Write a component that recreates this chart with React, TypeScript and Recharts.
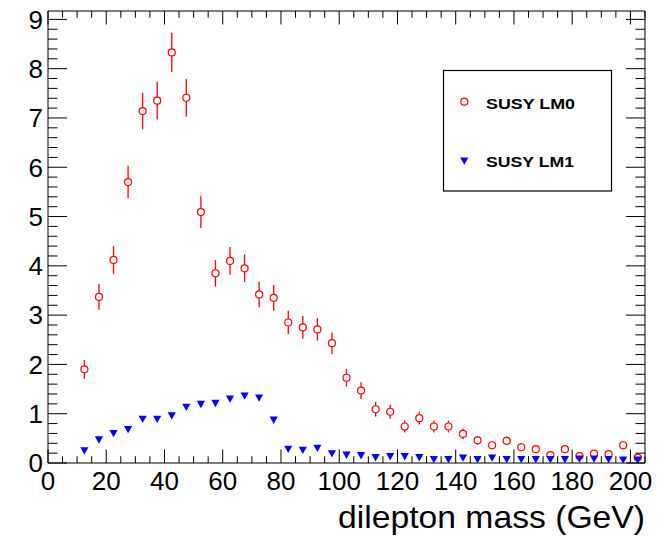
import React from "react"
import { ScatterChart, Scatter, XAxis, YAxis, ErrorBar } from "recharts"

// bin centres (GeV), 5 GeV wide bins
const massBins = [
  12.5, 17.5, 22.5, 27.5, 32.5, 37.5, 42.5, 47.5, 52.5, 57.5, 62.5, 67.5, 72.5,
  77.5, 82.5, 87.5, 92.5, 97.5, 102.5, 107.5, 112.5, 117.5, 122.5, 127.5, 132.5,
  137.5, 142.5, 147.5, 152.5, 157.5, 162.5, 167.5, 172.5, 177.5, 182.5, 187.5,
  192.5, 197.5, 202.5,
]

const lm0Values = [
  1.9, 3.37, 4.12, 5.7, 7.14, 7.35, 8.33, 7.41, 5.09, 3.85, 4.1, 3.95, 3.42,
  3.35, 2.85, 2.75, 2.71, 2.43, 1.73, 1.47, 1.09, 1.04, 0.74, 0.91, 0.74,
  0.74, 0.59, 0.46, 0.36, 0.45, 0.32, 0.28, 0.16, 0.28, 0.14, 0.19,
  0.18, 0.36, 0.11,
]

const lm0Errors = [
  0.19, 0.26, 0.28, 0.33, 0.37, 0.38, 0.4, 0.38, 0.32, 0.27, 0.28, 0.28, 0.26,
  0.26, 0.24, 0.23, 0.23, 0.22, 0.18, 0.17, 0.15, 0.14, 0.12, 0.13, 0.12,
  0.12, 0.11, 0.09, 0.08, 0.09, 0.08, 0.07, 0.06, 0.07, 0.05, 0.06,
  0.06, 0.08, 0.05,
]

const lm1Values = [
  0.25, 0.47, 0.6, 0.68, 0.89, 0.89, 0.96, 1.13, 1.19, 1.21, 1.3, 1.36, 1.32,
  0.87, 0.28, 0.26, 0.3, 0.19, 0.16, 0.15, 0.11, 0.13, 0.13, 0.11, 0.07,
  0.07, 0.1, 0.07, 0.1, 0.07, 0.07, 0.07, 0.07, 0.07, 0.08, 0.08,
  0.07, 0.06, 0.06,
]

const xTickLabels = [0, 20, 40, 60, 80, 100, 120, 140, 160, 180, 200]
const yTickLabels = [0, 1, 2, 3, 4, 5, 6, 7, 8, 9]

const FONT = "'Liberation Sans', Arial, Helvetica, sans-serif"
const RED = "#ff0000"
const BLUE = "#0000ff"

// minor ticks every 5 GeV on x, every 0.2 on y
const xTicks: number[] = []
for (let i = 0; i <= 41; i++) xTicks.push(i * 5)
const yTicks: number[] = []
for (let i = 0; i <= 45; i++) yTicks.push(Math.round(i * 2) / 10)

const lm0Data = massBins.map((x, i) => ({ x, y: lm0Values[i], err: lm0Errors[i] }))
const lm1Data = massBins.map((x, i) => ({ x, y: lm1Values[i] }))

const isMajorX = (v: number) => xTickLabels.includes(v)
const isMajorY = (v: number) => yTickLabels.some((t) => Math.abs(t - v) < 1e-6)

const BottomTick = (props: any) => {
  const { x, y, payload } = props
  const major = isMajorX(payload.value)
  return (
    <g>
      <line x1={x} x2={x} y1={y} y2={y - (major ? 13.5 : 6.8)} stroke="#000" strokeWidth={1} />
      {major && (
        <text x={x} y={y + 27} textAnchor="middle" fontSize={26} fontFamily={FONT} fill="#000">
          {payload.value}
        </text>
      )}
    </g>
  )
}

const TopTick = (props: any) => {
  const { x, y, payload } = props
  const major = isMajorX(payload.value)
  return <line x1={x} x2={x} y1={y} y2={y + (major ? 13.5 : 6.8)} stroke="#000" strokeWidth={1} />
}

const LeftTick = (props: any) => {
  const { x, y, payload } = props
  const major = isMajorY(payload.value)
  return (
    <g>
      <line x1={x} x2={x + (major ? 19 : 9.5)} y1={y} y2={y} stroke="#000" strokeWidth={1} />
      {major && (
        <text x={x - 5} y={y + 9.3} textAnchor="end" fontSize={26} fontFamily={FONT} fill="#000">
          {Math.round(payload.value)}
        </text>
      )}
    </g>
  )
}

const RightTick = (props: any) => {
  const { x, y, payload } = props
  const major = isMajorY(payload.value)
  return <line x1={x} x2={x - (major ? 19 : 9.5)} y1={y} y2={y} stroke="#000" strokeWidth={1} />
}

const OpenCircle = (props: any) => {
  const { cx, cy } = props
  return <circle cx={cx} cy={cy} r={3.5} fill="#fff" stroke={RED} strokeWidth={1.2} />
}

const DownTriangle = (props: any) => {
  const { cx, cy } = props
  return (
    <polygon
      points={`${cx - 4.1},${cy - 3.5} ${cx + 4.1},${cy - 3.5} ${cx},${cy + 3.8}`}
      fill={BLUE}
    />
  )
}

export default function App() {
  return (
    <div
      style={{
        position: "absolute",
        left: 0,
        top: 0,
        width: 667,
        height: 537,
        background: "#fff",
        fontFamily: FONT,
      }}
    >
      <ScatterChart width={667} height={537} margin={{ top: 10, right: 21, bottom: 73, left: 47 }}>
        <XAxis
          xAxisId="b"
          type="number"
          dataKey="x"
          domain={[0, 205]}
          allowDataOverflow
          ticks={xTicks}
          interval={0}
          height={1}
          tickSize={0}
          tickMargin={0}
          tickLine={false}
          axisLine={{ stroke: "#000" }}
          tick={<BottomTick />}
        />
        <XAxis
          xAxisId="t"
          orientation="top"
          type="number"
          dataKey="x"
          domain={[0, 205]}
          allowDataOverflow
          ticks={xTicks}
          interval={0}
          height={1}
          tickSize={0}
          tickMargin={0}
          tickLine={false}
          axisLine={{ stroke: "#000" }}
          tick={<TopTick />}
        />
        <YAxis
          yAxisId="l"
          type="number"
          dataKey="y"
          domain={[0, 9.17]}
          allowDataOverflow
          ticks={yTicks}
          interval={0}
          width={1}
          tickSize={0}
          tickMargin={0}
          tickLine={false}
          axisLine={{ stroke: "#000" }}
          tick={<LeftTick />}
        />
        <YAxis
          yAxisId="r"
          orientation="right"
          type="number"
          dataKey="y"
          domain={[0, 9.17]}
          allowDataOverflow
          ticks={yTicks}
          interval={0}
          width={1}
          tickSize={0}
          tickMargin={0}
          tickLine={false}
          axisLine={{ stroke: "#000" }}
          tick={<RightTick />}
        />
        <Scatter
          name="SUSY LM0"
          data={lm0Data}
          xAxisId="b"
          yAxisId="l"
          shape={<OpenCircle />}
          isAnimationActive={false}
        >
          <ErrorBar dataKey="err" direction="y" width={0} stroke={RED} strokeWidth={1.3} isAnimationActive={false} />
        </Scatter>
        <Scatter
          name="SUSY LM1"
          data={lm1Data}
          xAxisId="b"
          yAxisId="l"
          shape={<DownTriangle />}
          isAnimationActive={false}
        />
      </ScatterChart>

      {/* axis title, right aligned with the frame */}
      <svg width={667} height={537} style={{ position: "absolute", left: 0, top: 0, pointerEvents: "none" }}>
        <text x={645} y={528} textAnchor="end" fontSize={32} fontFamily={FONT} fill="#000"
          textLength={307} lengthAdjust="spacingAndGlyphs">
          dilepton mass (GeV)
        </text>
        {/* legend box */}
        <rect x={443.5} y={70.5} width={168} height={120.5} fill="#fff" stroke="#000" strokeWidth={1.2} />
        <circle cx={464.3} cy={101.7} r={3.5} fill="#fff" stroke={RED} strokeWidth={1.2} />
        <text x={486} y={109.3} fontSize={14} fontWeight="bold" fontFamily={FONT} fill="#000"
          textLength={89} lengthAdjust="spacingAndGlyphs">
          SUSY LM0
        </text>
        <polygon points="460.2,157.5 468.4,157.5 464.3,164.8" fill={BLUE} />
        <text x={486} y={166.5} fontSize={14} fontWeight="bold" fontFamily={FONT} fill="#000"
          textLength={88} lengthAdjust="spacingAndGlyphs">
          SUSY LM1
        </text>
      </svg>
    </div>
  )
}
